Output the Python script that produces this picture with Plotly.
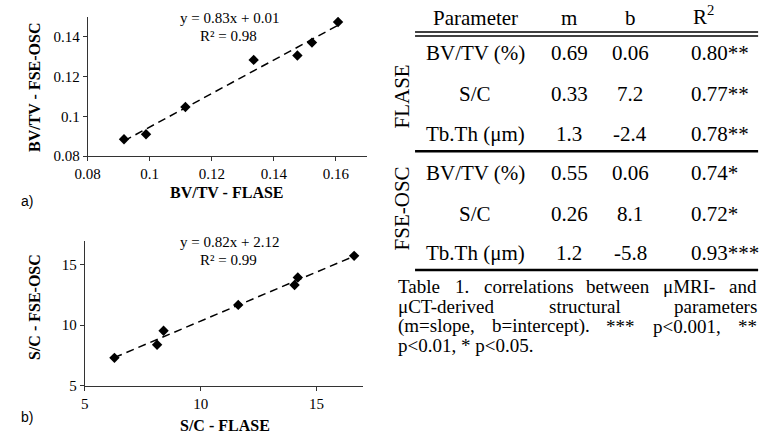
import numpy as np
import plotly.graph_objects as go

W, H = 765, 445

# ---------------- data ----------------
bvtv_flase = [0.0917, 0.0988, 0.1115, 0.1335, 0.1476, 0.1523, 0.1607]
bvtv_fseosc = [0.0885, 0.0910, 0.1047, 0.1283, 0.1305, 0.1370, 0.1473]
sc_flase = [6.28, 8.12, 8.40, 11.62, 14.05, 14.19, 16.62]
sc_fseosc = [7.30, 8.38, 9.54, 11.68, 13.33, 13.95, 15.74]

a_xticks = [0.08, 0.10, 0.12, 0.14, 0.16]
a_xticktext = ["0.08", "0.1", "0.12", "0.14", "0.16"]
a_yticks = [0.08, 0.10, 0.12, 0.14]
a_yticktext = ["0.08", "0.1", "0.12", "0.14"]
b_ticks = [5, 10, 15]
b_ticktext = ["5", "10", "15"]

eq_a = ["y = 0.83x + 0.01", "R² = 0.98"]
eq_b = ["y = 0.82x + 2.12", "R² = 0.99"]

table_header = ["Parameter", "m", "b", "R<sup>2</sup>"]
table_groups = ["FLASE", "FSE-OSC"]
table_params = ["BV/TV (%)", "S/C", "Tb.Th (μm)"]
flase_m = ["0.69", "0.33", "1.3"]
flase_b = ["0.06", "7.2", "-2.4"]
flase_r2 = ["0.80**", "0.77**", "0.78**"]
fse_m = ["0.55", "0.26", "1.2"]
fse_b = ["0.06", "8.1", "-5.8"]
fse_r2 = ["0.74*", "0.72*", "0.93***"]

caption_lines = [
    ["Table", "1.", "correlations", "between", "μMRI-", "and"],
    ["μCT-derived", "structural", "parameters"],
    ["(m=slope,", "b=intercept).", "***", "p<0.001,", "**"],
    ["p<0.01, * p<0.05."],
]

# ---------------- layout helpers ----------------
# approximate Times glyph widths (em) used only to justify the caption lines
TIMES = {' ': .25, '.': .25, ',': .25, '(': .333, ')': .333, '-': .333, '=': .564,
         '<': .564, '*': .5, 'μ': .576, 'M': .889, 'R': .667, 'I': .333, 'C': .667,
         'T': .611, 'a': .444, 'b': .5, 'c': .444, 'd': .5, 'e': .444, 'i': .278,
         'l': .278, 'm': .778, 'n': .5, 'o': .5, 'p': .5, 'r': .333, 's': .389,
         't': .278, 'u': .5, 'v': .5, 'w': .722}

def word_w(s, size):
    return sum(TIMES.get(ch, .5) for ch in s) * size

def px(x):
    return x / W

def py(y):
    return 1 - y / H

SERIF = "Liberation Serif"
SANS = "Liberation Sans"

fig = go.Figure()

def add_scatter(xs, ys, xa, ya):
    fig.add_trace(go.Scatter(x=xs, y=ys, mode="markers", xaxis=xa, yaxis=ya,
                             marker=dict(symbol="diamond", size=8, color="black"),
                             showlegend=False, hoverinfo="skip"))
    k, c = np.polyfit(xs, ys, 1)
    lx = [min(xs), max(xs)]
    fig.add_trace(go.Scatter(x=lx, y=[k * v + c for v in lx], mode="lines",
                             xaxis=xa, yaxis=ya,
                             line=dict(color="black", width=1.5, dash="8px,5px"),
                             showlegend=False, hoverinfo="skip"))

add_scatter(bvtv_flase, bvtv_fseosc, "x", "y")
add_scatter(sc_flase, sc_fseosc, "x2", "y2")

axis_common = dict(showline=True, linecolor="#333", linewidth=1, ticks="outside",
                   ticklen=4, tickcolor="#333", showgrid=False, zeroline=False,
                   tickfont=dict(family=SERIF, size=15, color="black"))

fig.update_layout(
    width=W, height=H, margin=dict(l=0, r=0, t=0, b=0),
    paper_bgcolor="white", plot_bgcolor="white", showlegend=False,
    xaxis=dict(domain=[px(76), px(360)], range=[0.08, 0.17], anchor="y",
               tickvals=a_xticks, ticktext=a_xticktext, **axis_common),
    yaxis=dict(domain=[py(159), py(17)], range=[0.08, 0.15], anchor="x",
               tickvals=a_yticks, ticktext=a_yticktext, **axis_common),
    xaxis2=dict(domain=[px(73), px(356)], range=[5, 17], anchor="y2",
                tickvals=b_ticks, ticktext=b_ticktext, **axis_common),
    yaxis2=dict(domain=[py(392.7), py(245)], range=[5, 17], anchor="x2",
                tickvals=b_ticks, ticktext=b_ticktext, **axis_common),
)

ann = []

def text(x, y, s, size=15, family=SERIF, xanchor="center", angle=0, bold=False):
    if bold:
        s = "<b>" + s + "</b>"
    ann.append(dict(x=px(x), y=py(y), xref="paper", yref="paper", text=s,
                    showarrow=False, xanchor=xanchor, yanchor="middle",
                    textangle=angle, font=dict(family=family, size=size, color="black")))

# chart titles / equations
text(22, 89, "BV/TV - FSE-OSC", size=16, angle=-90, bold=True)
text(218, 196, "BV/TV - FLASE", size=16, bold=True)
text(220, 18, eq_a[0])
text(219, 37, eq_a[1])
text(14, 205, "a)", size=14, family=SANS)

text(22, 313, "S/C - FSE-OSC", size=16, angle=-90, bold=True)
text(216, 433, "S/C - FLASE", size=16, bold=True)
text(220, 246, eq_b[0])
text(219, 265, eq_b[1])
text(14, 425, "b)", size=14, family=SANS)

# table
TS = 21
text(470, 18, table_header[0], size=TS)
text(566, 18, table_header[1], size=TS)
text(628, 18, table_header[2], size=TS)
text(702, 16, table_header[3], size=TS)

row_y = [[54, 96, 136], [176, 218, 258]]
group_y = [98, 212]
cols = [(flase_m, flase_b, flase_r2), (fse_m, fse_b, fse_r2)]
for g in range(2):
    text(396, group_y[g], table_groups[g], size=TS, angle=-90)
    mv, bv, rv = cols[g]
    for i in range(3):
        yy = row_y[g][i]
        text(470, yy, table_params[i], size=TS)
        text(566, yy, mv[i], size=TS)
        text(628, yy, bv[i], size=TS)
        text(688, yy, rv[i], size=TS, xanchor="left")

# caption (justified lines, last line left-aligned)
CS = 19
CAP_L, CAP_R = 390, 754
cap_y = [292, 312, 332, 352]
for li, words in enumerate(caption_lines):
    if li == len(caption_lines) - 1 or len(words) == 1:
        text(CAP_L, cap_y[li], " ".join(words), size=CS, xanchor="left")
        continue
    widths = [word_w(w, CS) for w in words]
    gap = (CAP_R - CAP_L - sum(widths)) / (len(words) - 1)
    x = CAP_L
    for w, ww in zip(words, widths):
        text(x, cap_y[li], w, size=CS, xanchor="left")
        x += ww + gap

fig.update_layout(annotations=ann)

shapes = []
def hline(y, w):
    shapes.append(dict(type="line", xref="paper", yref="paper",
                       x0=px(409), x1=px(758), y0=py(y), y1=py(y),
                       line=dict(color="black", width=w)))
hline(32.7, 1.5)
hline(36.7, 1.5)
hline(154, 2.5)
hline(275, 2.5)
fig.update_layout(shapes=shapes)

fig.write_html("out.html", config={"displayModeBar": False},
               post_script="document.body.style.margin='0';"
                           "document.body.style.overflow='hidden';")
